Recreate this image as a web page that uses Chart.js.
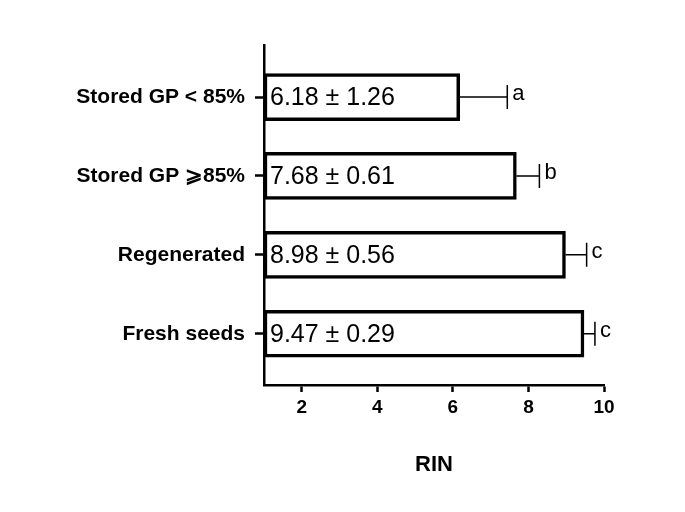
<!DOCTYPE html>
<html><head><meta charset="utf-8">
<script src="https://cdn.jsdelivr.net/npm/chart.js@4"></script>
<style>body{margin:0;background:#fff}#wrap{width:685px;height:512px}</style>
</head><body><div id="wrap"><canvas id="c"></canvas></div>
<script>
// Data
const categories = ['Stored GP < 85%', 'Stored GP \u2A7E85%', 'Regenerated', 'Fresh seeds'];
const rinMeans = [6.18, 7.68, 8.98, 9.47];
const rinSD = [1.26, 0.61, 0.56, 0.29];
const sigLetters = ['a', 'b', 'c', 'c'];
const xTicks = [2, 4, 6, 8, 10];

// Error bars, value labels, letters
const annotate = {
  id: 'annotate',
  afterDatasetsDraw(chart) {
    const ctx = chart.ctx, x = chart.scales.x, y = chart.scales.y;
    ctx.save();
    rinMeans.forEach((m, i) => {
      const yc = y.getPixelForValue(i);
      const x0 = x.getPixelForValue(m), x1 = x.getPixelForValue(m + rinSD[i]);
      ctx.strokeStyle = '#000'; ctx.lineWidth = 1.5;
      ctx.beginPath();
      ctx.moveTo(x0, yc); ctx.lineTo(x1, yc);
      ctx.moveTo(x1, yc - 12); ctx.lineTo(x1, yc + 12);
      ctx.stroke();
      ctx.fillStyle = '#000'; ctx.textBaseline = 'middle';
      ctx.font = '25px "Liberation Sans", Arial';
      ctx.textAlign = 'left';
      ctx.fillText(m.toFixed(2) + ' \u00B1 ' + rinSD[i].toFixed(2), x.left + 6, yc + 1);
      ctx.font = '22px "Liberation Sans", Arial';
      ctx.fillText(sigLetters[i], x1 + 5, yc - 3);
    });
    ctx.restore();
  }
};

new Chart(document.getElementById('c'), {
  type: 'bar',
  data: {
    datasets: [{
      data: rinMeans.map((v, i) => ({ x: v, y: i })),
      base: 1,
      backgroundColor: '#fff',
      borderColor: '#000',
      borderWidth: 3.5,
      borderSkipped: false,
      barThickness: 47
    }]
  },
  plugins: [annotate],
  options: {
    indexAxis: 'y',
    responsive: true,
    maintainAspectRatio: false,
    animation: false,
    layout: { padding: { top: 45, right: 81, left: 0, bottom: 30 } },
    plugins: { legend: { display: false }, tooltip: { enabled: false } },
    scales: {
      x: {
        type: 'linear', min: 1, max: 10,
        afterBuildTicks: s => { s.ticks = xTicks.map(v => ({ value: v })); },
        afterFit: s => { s.height = 97; },
        grid: { drawOnChartArea: false, tickLength: 7, tickWidth: 2.5, color: '#000' },
        border: { color: '#000', width: 2.5 },
        ticks: { color: '#000', font: { family: '"Liberation Sans", Arial', size: 19, weight: 'bold' }, padding: 4 },
        title: { display: true, text: 'RIN', color: '#000', font: { family: '"Liberation Sans", Arial', size: 22, weight: 'bold' } }
      },
      y: {
        type: 'linear', reverse: true, min: -0.66, max: 3.65, offset: false,
        afterBuildTicks: s => { s.ticks = categories.map((c, i) => ({ value: i })); },
        afterFit: s => { s.width = 264; },
        grid: { offset: false, drawOnChartArea: false, tickLength: 9, tickWidth: 2.5, color: '#000' },
        border: { color: '#000', width: 2.5 },
        ticks: { color: '#000', font: { family: '"Liberation Sans", Arial', size: 21, weight: 'bold' }, padding: 10, callback: v => categories[v] }
      }
    }
  }
});
</script></body></html>
